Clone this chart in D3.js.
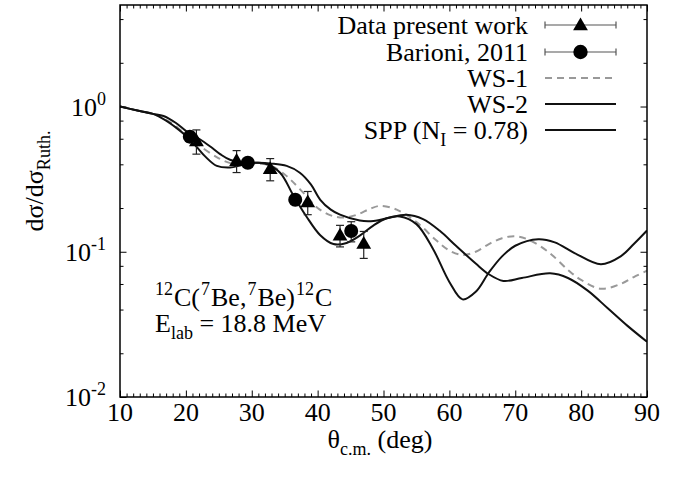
<!DOCTYPE html>
<html><head><meta charset="utf-8">
<script src="https://cdn.jsdelivr.net/npm/d3@7"></script>
<style>body{margin:0;background:#fff}svg{display:block}text{font-family:"Liberation Serif","Times New Roman",serif;fill:#000}</style>
</head><body><svg id="c" width="675" height="478"></svg>
<script>
// ---- data ----
const xTicks = [10,20,30,40,50,60,70,80,90];
const yTicks = [1e-2,1e-1,1e0];
const yTickExp = ["-2","-1","0"];
// Data present work: [theta, value, error]
const dataPresent = [[21.6,0.58,0.11],[27.7,0.424,0.073],[32.8,0.373,0.065],[38.5,0.22,0.04],[43.4,0.13,0.022],[47.0,0.114,0.024]];
// Barioni, 2011
const dataBarioni = [[20.6,0.62,0.05],[29.4,0.41,0.02],[36.6,0.228,0.01],[45.1,0.139,0.022]];
// WS-1 (dashed)
const ws1 = [[10,1.0],[13,0.93],[15,0.89],[18,0.76],[20,0.64],[22,0.54],[25,0.44],[27,0.405],[29,0.40],[31,0.405],[33,0.39],[35,0.34],[36,0.31],[38,0.25],[40,0.2],[42,0.178],[44,0.172],[46,0.18],[48,0.198],[49.5,0.207],[52,0.195],[55,0.16],[58,0.12],[60,0.102],[62,0.095],[64,0.1],[66,0.113],[68,0.124],[70,0.128],[72,0.121],[75,0.1],[78,0.075],[80,0.064],[83,0.0556],[86,0.06],[88,0.067],[90,0.074]];
// WS-2 (solid, lower through data)
const ws2 = [[10,1.0],[13,0.93],[15,0.89],[17,0.8],[18.6,0.71],[20,0.63],[21.6,0.53],[23,0.45],[24.7,0.39],[26.7,0.38],[28.5,0.395],[30.5,0.41],[32,0.405],[34.3,0.35],[36.3,0.245],[38.3,0.175],[40.4,0.13],[42.4,0.113],[44.4,0.115],[46.4,0.129],[48.5,0.152],[50.5,0.17],[52.5,0.175],[55,0.155],[57.5,0.105],[60,0.062],[62,0.047],[64,0.053],[66,0.072],[68,0.093],[70,0.11],[73.5,0.122],[76,0.116],[79,0.098],[83,0.082],[86,0.093],[88,0.113],[90,0.14]];
// SPP (N_I = 0.78) (solid, upper)
const spp = [[10,1.0],[13,0.93],[15,0.89],[16.6,0.86],[18.5,0.77],[20.1,0.675],[22,0.6],[23.7,0.53],[25.2,0.47],[26.7,0.43],[29.2,0.41],[31,0.41],[32.8,0.405],[35.3,0.39],[37.3,0.35],[39,0.29],[40.4,0.228],[42,0.195],[43.4,0.18],[46.4,0.164],[48.5,0.163],[50.5,0.17],[53.5,0.18],[56,0.168],[58.5,0.14],[61,0.11],[64,0.083],[66,0.07],[68.2,0.063],[71,0.066],[75.3,0.071],[78,0.066],[81,0.054],[84,0.041],[87,0.031],[90,0.024]];
const legendLabels = ["Data present work","Barioni, 2011","WS-1","WS-2","SPP (N_I = 0.78)"];

// ---- layout ----
const FS = 26, SS = 18;
const svg = d3.select("#c");
const L=120,R=647,T=5,B=397;
const x = d3.scaleLinear().domain([10,90]).range([L,R]);
const y = d3.scaleLog().domain([0.01,5]).range([B,T]);

const xMinor = d3.range(10,91,1).filter(v=>v%10!==0);
const yMinor = [];
[0.01,0.1,1].forEach(d=>[2,4,6,8].forEach(m=>{const v=d*m; if(v<=5) yMinor.push(v);}));

const g = svg.append("g");
const axB = d3.axisBottom(x).tickValues(xTicks).tickSize(-6.5).tickFormat("");
const axT = d3.axisTop(x).tickValues(xTicks).tickSize(-6.5).tickFormat("");
const axBm = d3.axisBottom(x).tickValues(xMinor).tickSize(-3.5).tickFormat("");
const axTm = d3.axisTop(x).tickValues(xMinor).tickSize(-3.5).tickFormat("");
const axL = d3.axisLeft(y).tickValues(yTicks).tickSize(-6.5).tickFormat("");
const axR = d3.axisRight(y).tickValues(yTicks).tickSize(-6.5).tickFormat("");
const axLm = d3.axisLeft(y).tickValues(yMinor).tickSize(-3.5).tickFormat("");
const axRm = d3.axisRight(y).tickValues(yMinor).tickSize(-3.5).tickFormat("");
[[axB,`translate(0,${B})`],[axBm,`translate(0,${B})`],[axT,`translate(0,${T})`],[axTm,`translate(0,${T})`],
 [axL,`translate(${L},0)`],[axLm,`translate(${L},0)`],[axR,`translate(${R},0)`],[axRm,`translate(${R},0)`]].forEach(([a,t])=>{
  const s=g.append("g").attr("transform",t).call(a);
  s.select(".domain").remove();
  s.selectAll("line").attr("stroke","#000").attr("stroke-width",1);
});

// x tick labels
svg.append("g").selectAll("text").data(xTicks).join("text")
  .attr("x",d=>x(d)).attr("y",421).attr("text-anchor","middle").attr("font-size",FS).text(d=>d);
// y tick labels
yTicks.forEach((v,i)=>{
  const t=svg.append("text").attr("x",106).attr("y",y(v)+9).attr("text-anchor","end").attr("font-size",FS);
  t.append("tspan").text("10");
  t.append("tspan").attr("dy",-11).attr("font-size",SS).text(yTickExp[i]);
});

// axis titles
const xt = svg.append("text").attr("x",380).attr("y",448).attr("text-anchor","middle").attr("font-size",FS);
xt.append("tspan").text("θ");
xt.append("tspan").attr("dy",7).attr("font-size",SS).text("c.m.");
xt.append("tspan").attr("dy",-7).text(" (deg)");
const yt = svg.append("text").attr("transform","translate(43,181) rotate(-90)").attr("text-anchor","middle").attr("font-size",FS);
yt.append("tspan").text("dσ/dσ");
yt.append("tspan").attr("dy",7).attr("font-size",SS).text("Ruth.");

// curves
const line = d3.line().x(d=>x(d[0])).y(d=>y(d[1])).curve(d3.curveCatmullRom.alpha(0.5));
svg.append("clipPath").attr("id","cp").append("rect").attr("x",L).attr("y",T).attr("width",R-L).attr("height",B-T);
const cg = svg.append("g").attr("clip-path","url(#cp)");
cg.append("path").datum(ws1).attr("d",line).attr("fill","none").attr("stroke","#999").attr("stroke-width",2).attr("stroke-dasharray","7,5");
cg.append("path").datum(ws2).attr("d",line).attr("fill","none").attr("stroke","#111").attr("stroke-width",2);
cg.append("path").datum(spp).attr("d",line).attr("fill","none").attr("stroke","#111").attr("stroke-width",2);

// error bars + markers
function errbar(gr,cx,y1,y2,cap,col){
  gr.append("line").attr("x1",cx).attr("x2",cx).attr("y1",y1).attr("y2",y2).attr("stroke",col).attr("stroke-width",1.2);
  gr.append("line").attr("x1",cx-cap).attr("x2",cx+cap).attr("y1",y1).attr("y2",y1).attr("stroke",col).attr("stroke-width",1.2);
  gr.append("line").attr("x1",cx-cap).attr("x2",cx+cap).attr("y1",y2).attr("y2",y2).attr("stroke",col).attr("stroke-width",1.2);
}
const tri = d3.symbol().type(d3.symbolTriangle).size(95);
const pg = svg.append("g");
dataPresent.forEach(d=>{
  errbar(pg,x(d[0]),y(d[1]+d[2]),y(d[1]-d[2]),4,"#222");
  pg.append("path").attr("d",tri).attr("transform",`translate(${x(d[0])},${y(d[1])+1})`).attr("fill","#000");
});
dataBarioni.forEach(d=>{
  errbar(pg,x(d[0]),y(d[1]+d[2]),y(d[1]-d[2]),4,"#222");
  pg.append("circle").attr("cx",x(d[0])).attr("cy",y(d[1])).attr("r",7).attr("fill","#000");
});

// frame
svg.append("rect").attr("x",L).attr("y",T).attr("width",R-L).attr("height",B-T).attr("fill","none").attr("stroke","#000").attr("stroke-width",1.5);

// legend
const ly=[25,52,78,104,130], lx1=545, lx2=616, ltx=528;
legendLabels.forEach((lab,i)=>{
  const t=svg.append("text").attr("x",ltx).attr("y",ly[i]+9).attr("text-anchor","end").attr("font-size",FS);
  if(i===4){t.append("tspan").text("SPP (N");t.append("tspan").attr("dy",7).attr("font-size",SS).text("I");t.append("tspan").attr("dy",-7).text(" = 0.78)");}
  else t.text(lab);
});
[0,1].forEach(i=>{
  const lg = svg.append("g");
  lg.append("line").attr("x1",lx1).attr("x2",lx2).attr("y1",ly[i]).attr("y2",ly[i]).attr("stroke","#555").attr("stroke-width",1.2);
  lg.append("line").attr("x1",lx1).attr("x2",lx1).attr("y1",ly[i]-3.5).attr("y2",ly[i]+3.5).attr("stroke","#555").attr("stroke-width",1.2);
  lg.append("line").attr("x1",lx2).attr("x2",lx2).attr("y1",ly[i]-3.5).attr("y2",ly[i]+3.5).attr("stroke","#555").attr("stroke-width",1.2);
});
svg.append("path").attr("d",tri).attr("transform",`translate(${(lx1+lx2)/2},${ly[0]+1})`).attr("fill","#000");
svg.append("circle").attr("cx",(lx1+lx2)/2).attr("cy",ly[1]).attr("r",7.2).attr("fill","#000");
svg.append("line").attr("x1",lx1).attr("x2",lx2).attr("y1",ly[2]).attr("y2",ly[2]).attr("stroke","#999").attr("stroke-width",2).attr("stroke-dasharray","7,5");
svg.append("line").attr("x1",lx1).attr("x2",lx2).attr("y1",ly[3]).attr("y2",ly[3]).attr("stroke","#111").attr("stroke-width",2);
svg.append("line").attr("x1",lx1).attr("x2",lx2).attr("y1",ly[4]).attr("y2",ly[4]).attr("stroke","#111").attr("stroke-width",2);

// annotation
const a1 = svg.append("text").attr("x",155).attr("y",306).attr("font-size",FS);
[["12",1],["C(",0],["7",1],["Be,",0],["7",1],["Be)",0],["12",1],["C",0]].forEach(([s,sup],k,arr)=>{
  const prev = k>0?arr[k-1][1]:0;
  const dy = sup&&!prev? -11 : (!sup&&prev? 11:0);
  a1.append("tspan").attr("dy",dy).attr("dx",k>0?1:0).attr("font-size",sup?SS:FS).text(s);
});
const a2 = svg.append("text").attr("x",155).attr("y",332).attr("font-size",FS);
a2.append("tspan").text("E");
a2.append("tspan").attr("dy",7).attr("font-size",SS).text("lab");
a2.append("tspan").attr("dy",-7).text(" = 18.8 MeV");
</script></body></html>
